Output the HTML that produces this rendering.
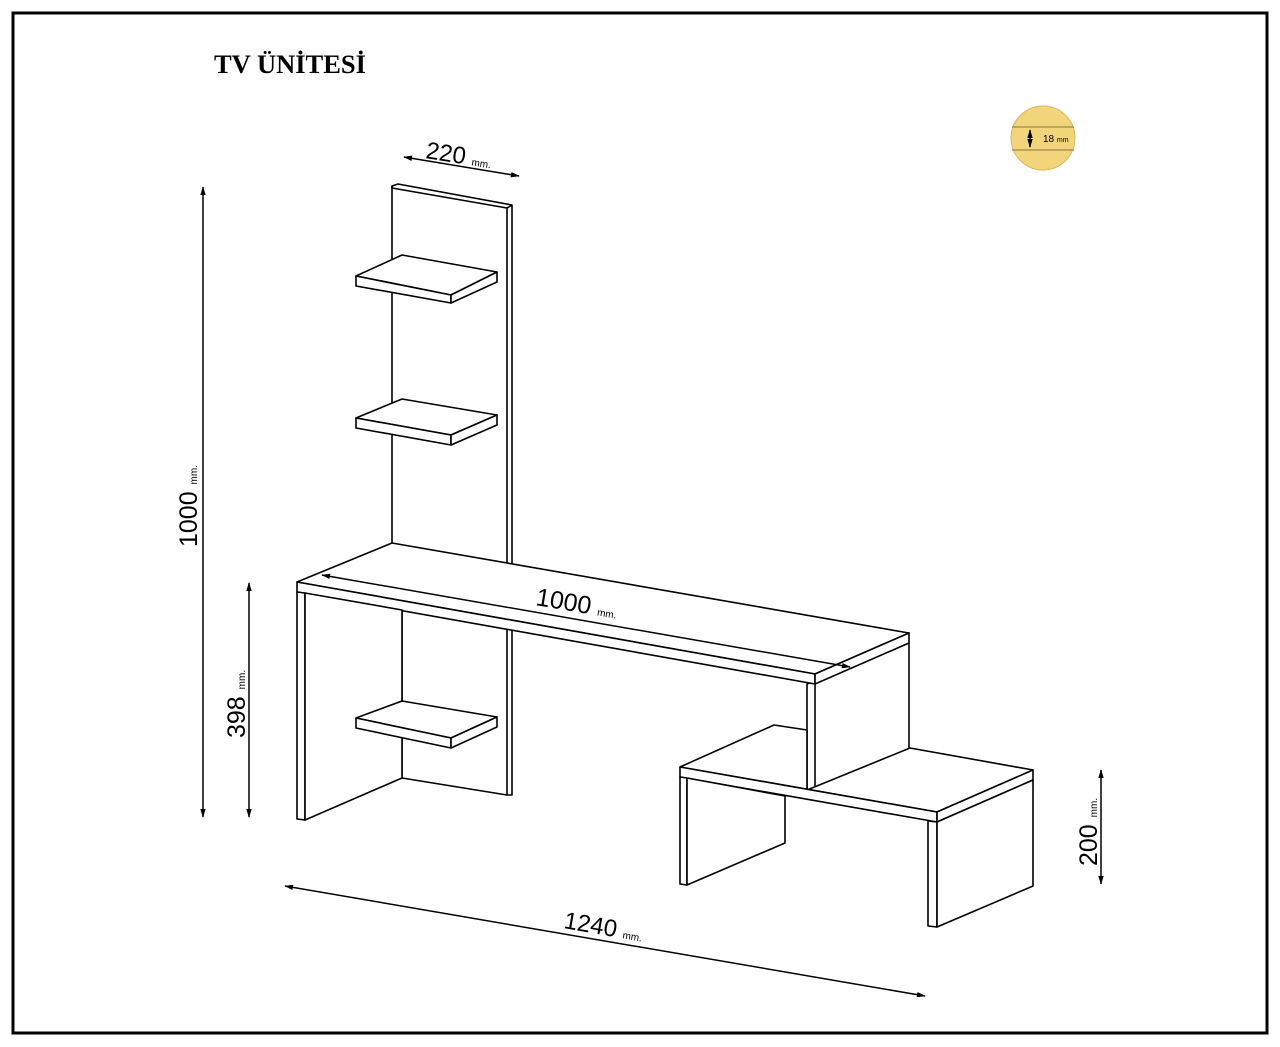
<!DOCTYPE html>
<html><head><meta charset="utf-8"><style>
html,body{margin:0;padding:0;background:#fff;}
svg{display:block;}
</style></head><body>
<svg width="1280" height="1047" viewBox="0 0 1280 1047" xmlns="http://www.w3.org/2000/svg">
<defs>
<marker id="a" viewBox="0 0 10 10" refX="9" refY="5" markerWidth="9" markerHeight="9" orient="auto-start-reverse" markerUnits="userSpaceOnUse"><path d="M0,2 L10,5 L0,8 z" fill="#000"/></marker>
</defs>
<rect x="13" y="13" width="1254" height="1020" fill="#fff" stroke="#000" stroke-width="3"/>
<text x="214" y="73" font-family="Liberation Serif, serif" font-weight="bold" font-size="26.5">TV ÜNİTESİ</text>

<circle cx="1043" cy="138" r="32" fill="#f2d47a" stroke="#d9b85c" stroke-width="1"/>
<line x1="1012" y1="127" x2="1074" y2="127" stroke="#8a7440" stroke-width="1"/>
<line x1="1012" y1="150" x2="1074" y2="150" stroke="#8a7440" stroke-width="1"/>
<line x1="1030" y1="130" x2="1030" y2="147" stroke="#000" stroke-width="1.5" marker-start="url(#a)" marker-end="url(#a)"/>
<text x="1043" y="142" font-family="Liberation Sans, sans-serif" font-size="10">18 <tspan font-size="7">mm</tspan></text>

<g fill="#fff" stroke="#000" stroke-width="1.6" stroke-linejoin="round">
<polygon points="392,186 398,184 512,205 512,795 507,795 507,208 392,188"/>
<line x1="392" y1="186" x2="392" y2="560"/>
<line x1="507" y1="208" x2="512" y2="205"/>
<line x1="402" y1="610" x2="402" y2="778"/>
<line x1="402" y1="778" x2="507" y2="795"/>
<polygon points="356,276 402,255 497,272 451,295"/>
<polygon points="356,276 451,295 451,303 356,286"/>
<polygon points="451,295 497,272 497,282 451,303"/>
<polygon points="356,418 402,399 497,415 451,435"/>
<polygon points="356,418 451,435 451,445 356,428"/>
<polygon points="451,435 497,415 497,425 451,445"/>
<polygon points="807,684 909,643 909,749 815,790 807,790"/>
<line x1="815" y1="684" x2="815" y2="790"/>
<polygon points="297,582 392,543 909,633 815,674"/>
<polygon points="297,582 815,674 815,684 297,592"/>
<polygon points="815,674 909,633 909,643 815,684"/>
<polygon points="297,592 305,593 305,820 297,819"/>
<polygon points="305,593 402,610 402,778 305,820"/>
<polygon points="356,718 402,701 497,717 451,738"/>
<polygon points="356,718 451,738 451,748 356,728"/>
<polygon points="451,738 497,717 497,727 451,748"/>
<polygon points="680,767 774,725 807,730 807,790 812,788 910,748 1033,770 937,812"/>
<polygon points="680,767 937,812 937,822 680,777"/>
<polygon points="937,812 1033,770 1033,780 937,822"/>
<polygon points="680,777 687,778 687,885 680,884"/>
<polygon points="687,778 785,796 785,843 687,885"/>
<polygon points="928,821 937,822 937,927 928,926"/>
<polygon points="937,822 1033,780 1033,886 937,927"/>
</g>

<g stroke="#000" stroke-width="1.5" fill="none">
<line x1="404" y1="157" x2="519" y2="176" marker-start="url(#a)" marker-end="url(#a)"/>
<line x1="203" y1="187" x2="203" y2="817" marker-start="url(#a)" marker-end="url(#a)"/>
<line x1="249" y1="583" x2="249" y2="817" marker-start="url(#a)" marker-end="url(#a)"/>
<line x1="1101" y1="770" x2="1101" y2="884" marker-start="url(#a)" marker-end="url(#a)"/>
<line x1="285" y1="886" x2="925" y2="996" marker-start="url(#a)" marker-end="url(#a)"/>
<line x1="322" y1="575" x2="850" y2="667" marker-start="url(#a)" marker-end="url(#a)"/>
</g>
<g font-family="Liberation Sans, sans-serif" fill="#000">
<text transform="translate(425,158) rotate(9)" font-size="24">220 <tspan font-size="10">mm.</tspan></text>
<text transform="translate(535,605) rotate(9.5)" font-size="25">1000 <tspan font-size="10">mm.</tspan></text>
<text transform="translate(563,928) rotate(9.8)" font-size="24">1240 <tspan font-size="10">mm.</tspan></text>
<text transform="translate(197,547) rotate(-90)" font-size="25">1000 <tspan font-size="10">mm.</tspan></text>
<text transform="translate(245,738) rotate(-90)" font-size="25">398 <tspan font-size="10">mm.</tspan></text>
<text transform="translate(1097,866) rotate(-90)" font-size="25">200 <tspan font-size="10">mm.</tspan></text>
</g>
</svg>
</body></html>
